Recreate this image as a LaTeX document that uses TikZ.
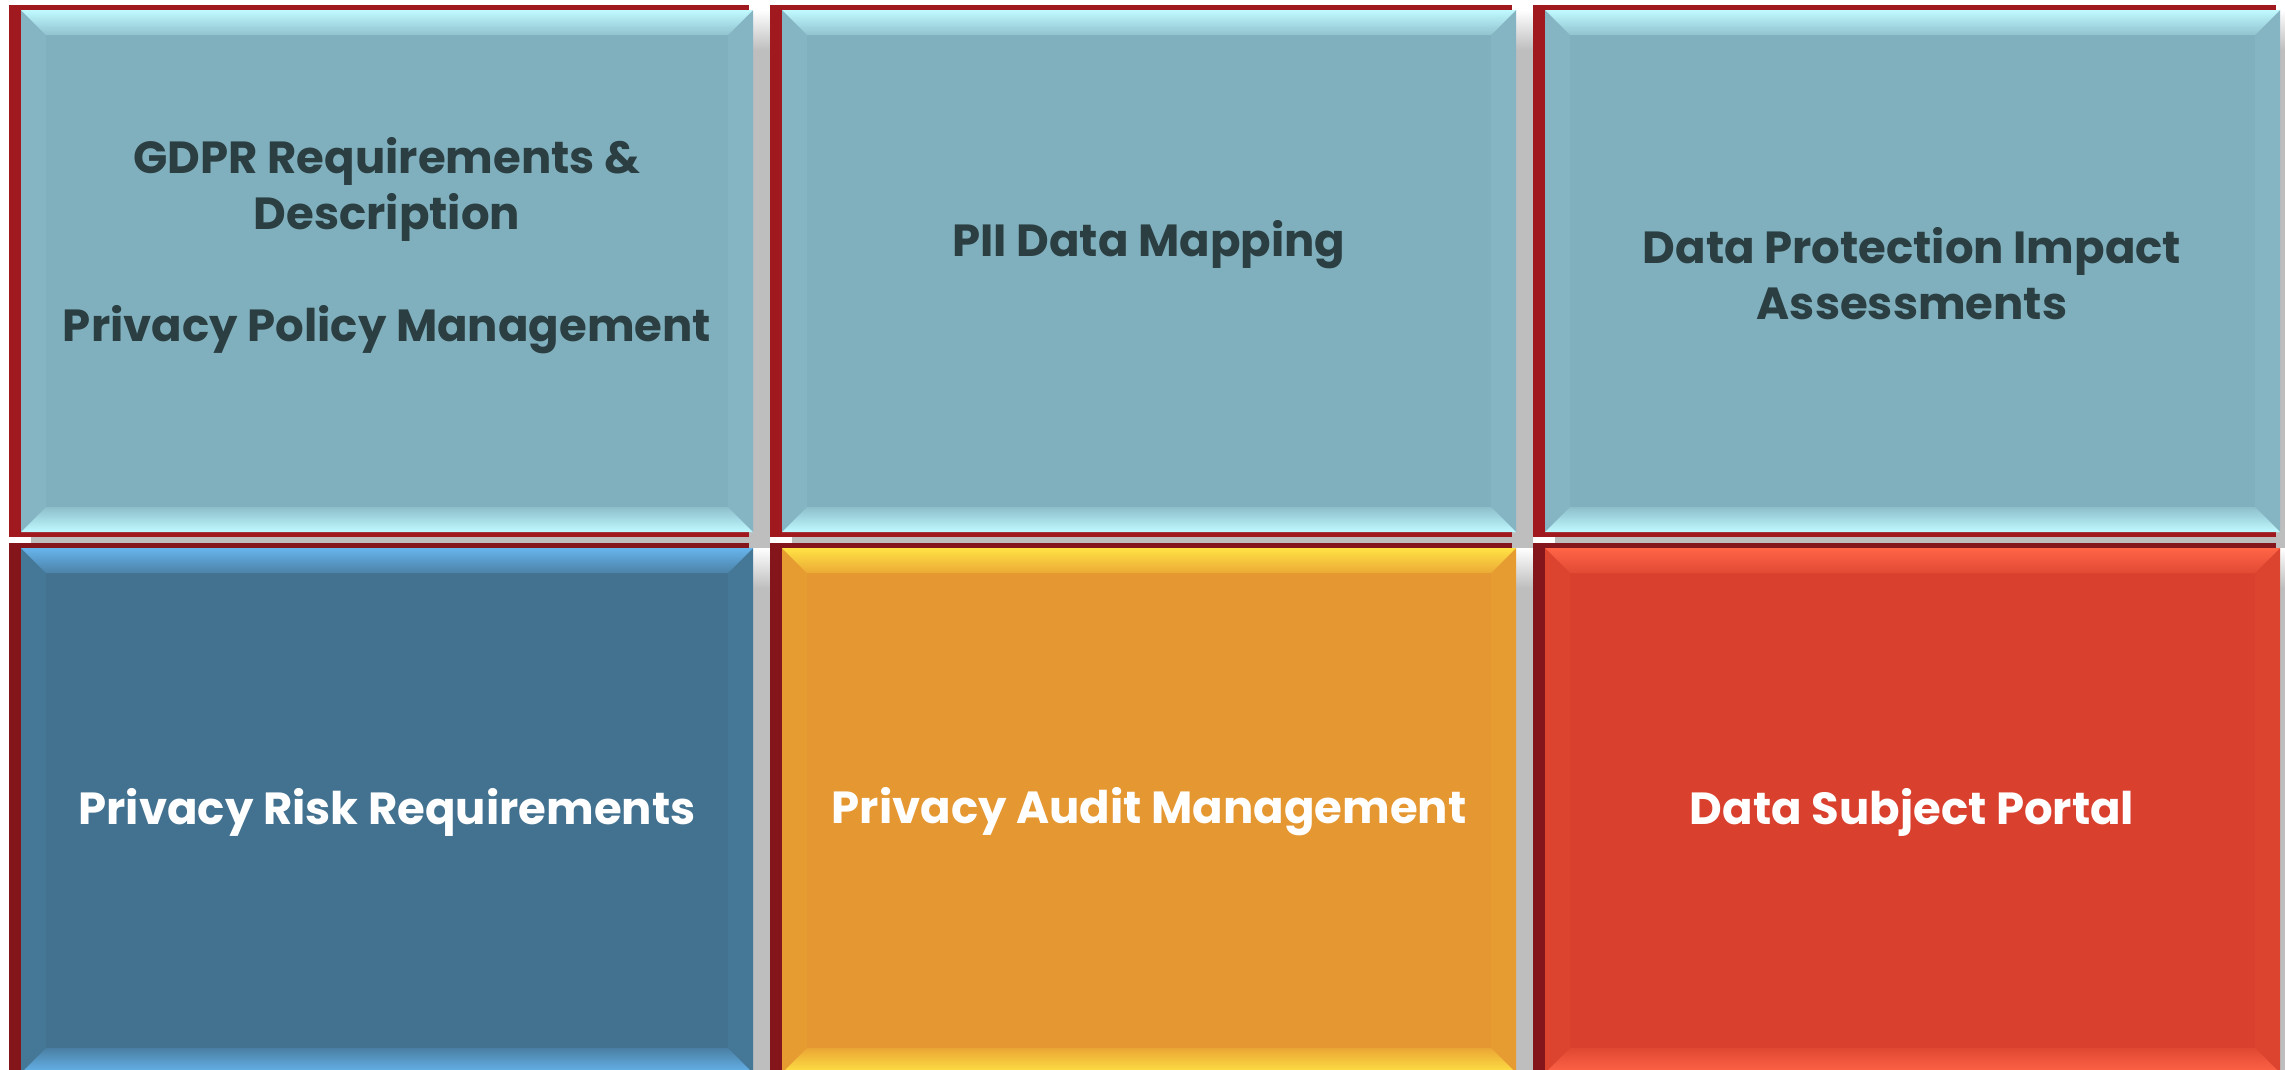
\documentclass[tikz,border=0pt]{standalone}
\usepackage{fontspec}
\setmainfont{Poppins}
\definecolor{shadowgrey}{HTML}{BEBEBE}
\definecolor{frametop}{HTML}{A0191E}
\definecolor{framebot}{HTML}{84151A}
\definecolor{tealface}{HTML}{80B0BE}
\definecolor{teallight}{HTML}{C0FAFF}
\definecolor{blueface}{HTML}{437291}
\definecolor{bluelight}{HTML}{66B4EC}
\definecolor{orangeface}{HTML}{E59731}
\definecolor{orangelight}{HTML}{FFE244}
\definecolor{redface}{HTML}{D9412E}
\definecolor{redlight}{HTML}{FF6446}
\definecolor{darktext}{HTML}{2B3E42}
% #1 x1, #2 y1, #3 x2, #4 y2, #5 face, #6 top light, #7 bottom light, #8 frame
\newcommand{\bevelbox}[8]{
  \fill[shadowgrey] ({#1+10},{#2+40}) rectangle ({#3+17},{#4+16});
  \shade[top color=white,bottom color=shadowgrey] ({#1+10},#2) rectangle ({#3+17},{#2+40});
  \fill[#8] ({#1-12},{#2-5}) rectangle ({#3-4},{#4+5});
  \fill[#5] (#1,#2) rectangle (#3,#4);
  \fill[#5!93!#6] (#1,#2) -- ({#1+25},{#2+25}) -- ({#1+25},{#4-25}) -- (#1,#4) -- cycle;
  \fill[#5!93!#6] (#3,#2) -- ({#3-25},{#2+25}) -- ({#3-25},{#4-25}) -- (#3,#4) -- cycle;
  \shade[top color=#6,bottom color=#5!75!#6] (#1,#2) -- (#3,#2) -- ({#3-25},{#2+25}) -- ({#1+25},{#2+25}) -- cycle;
  \shade[top color=#5!80!#7,bottom color=#7] (#1,#4) -- (#3,#4) -- ({#3-25},{#4-25}) -- ({#1+25},{#4-25}) -- cycle;
}
\tikzset{
  boxtext/.style={font=\bfseries\fontsize{45}{56}\selectfont, align=center},
  darklabel/.style={boxtext, text=darktext},
  lightlabel/.style={boxtext, text=white}
}
\begin{document}
\begin{tikzpicture}[x=1pt,y=-1pt]
\useasboundingbox[fill=white] (0,0) rectangle (2285,1069);

\bevelbox{21}{10}{753}{532}{tealface}{teallight}{teallight}{frametop}
\bevelbox{782}{10}{1516}{532}{tealface}{teallight}{teallight}{frametop}
\bevelbox{1545}{10}{2280}{532}{tealface}{teallight}{teallight}{frametop}
\bevelbox{21}{548}{753}{1073}{blueface}{bluelight}{bluelight}{framebot}
\bevelbox{782}{548}{1516}{1073}{orangeface}{orangelight}{orangelight}{framebot}
\bevelbox{1545}{548}{2280}{1073}{redface}{redlight}{redlight}{framebot}

\node[darklabel] (gdpr) at (387,246) {GDPR Requirements \&\\Description\\[56pt]Privacy Policy Management};
\node[darklabel] (piimap) at (1149,245) {PII Data Mapping};
\node[darklabel] (dpia) at (1912,274) {Data Protection Impact\\Assessments};
\node[lightlabel] (risk) at (387,812) {Privacy Risk Requirements};
\node[lightlabel] (audit) at (1149,812) {Privacy Audit Management};
\node[lightlabel] (portal) at (1912,812) {Data Subject Portal};
\end{tikzpicture}
\end{document}
